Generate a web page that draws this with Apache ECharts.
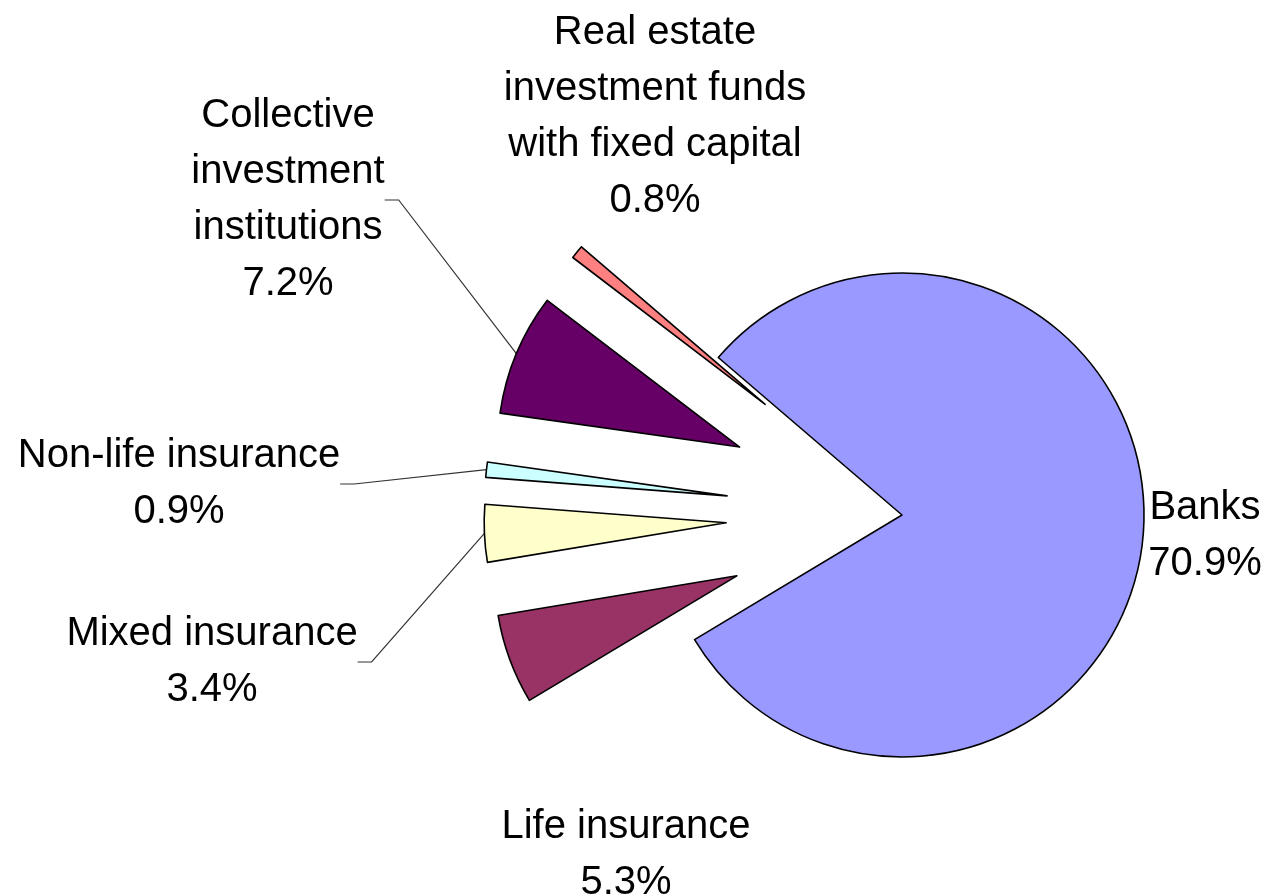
<!DOCTYPE html>
<html>
<head>
<meta charset="utf-8">
<script src="https://cdn.jsdelivr.net/npm/echarts@6/dist/echarts.min.js"></script>
<style>
html, body { margin: 0; padding: 0; background: #fff; }
#chart { width: 1266px; height: 894px; }
</style>
</head>
<body>
<div id="chart"></div>
<script>
// data (clockwise from Banks)
var sectors = ['Banks', 'Life insurance', 'Mixed insurance', 'Non-life insurance',
    'Collective\ninvestment\ninstitutions', 'Real estate\ninvestment funds\nwith fixed capital'];
var shares = [70.9, 5.3, 3.4, 0.9, 7.2, 0.8];
var colors = ['#9999ff', '#993366', '#ffffcc', '#ccffff', '#660066', '#ff8080'];
var exploded = [false, true, true, true, true, true];
var withLine = [false, false, true, true, true, false];

// label block centres (px)
var labelPos = [[1205, 536], [626, 855], [212, 662], [179, 484], [288, 200], [655, 117]];

var cx = 902, cy = 515, rad = 242, startAngle = 139.4, explode = 176;

var myChart = echarts.init(document.getElementById('chart'));

var total = 0;
shares.forEach(function (v) { total += v; });

// one pie per slice, so every pulled-out slice keeps its own label + leader line
function sliceSeries(k, center) {
    return {
        type: 'pie',
        center: center,
        radius: rad,
        startAngle: startAngle,
        clockwise: true,
        silent: true,
        avoidLabelOverlap: false,
        emphasis: { disabled: true },
        label: {
            position: 'outside',
            formatter: '{b}\n{c}%',
            color: '#000',
            fontFamily: 'Liberation Sans, Arial, sans-serif',
            fontSize: 40,
            lineHeight: 56,
            align: 'center'
        },
        labelLine: {
            length: 10,
            length2: 14,
            lineStyle: { color: '#333', width: 1.2 }
        },
        labelLayout: function (params) {
            var p = labelPos[params.dataIndex];
            return { x: p[0], y: p[1], align: 'center', verticalAlign: 'middle' };
        },
        data: sectors.map(function (name, i) {
            var on = i === k;
            return {
                name: name,
                value: shares[i],
                itemStyle: on ? { color: colors[i], borderColor: '#000', borderWidth: 1.6 }
                              : { color: 'rgba(0,0,0,0)', borderWidth: 0 },
                label: { show: on },
                labelLine: { show: on && withLine[i] }
            };
        })
    };
}

var series = [];
var cum = 0;
shares.forEach(function (v, i) {
    var mid = (startAngle - (cum + v / 2) / total * 360) * Math.PI / 180;
    var d = exploded[i] ? explode : 0;
    series.push(sliceSeries(i, [cx + Math.cos(mid) * d, cy - Math.sin(mid) * d]));
    cum += v;
});

var option = {
    animation: false,
    backgroundColor: '#fff',
    series: series
};

myChart.setOption(option);
</script>
</body>
</html>
